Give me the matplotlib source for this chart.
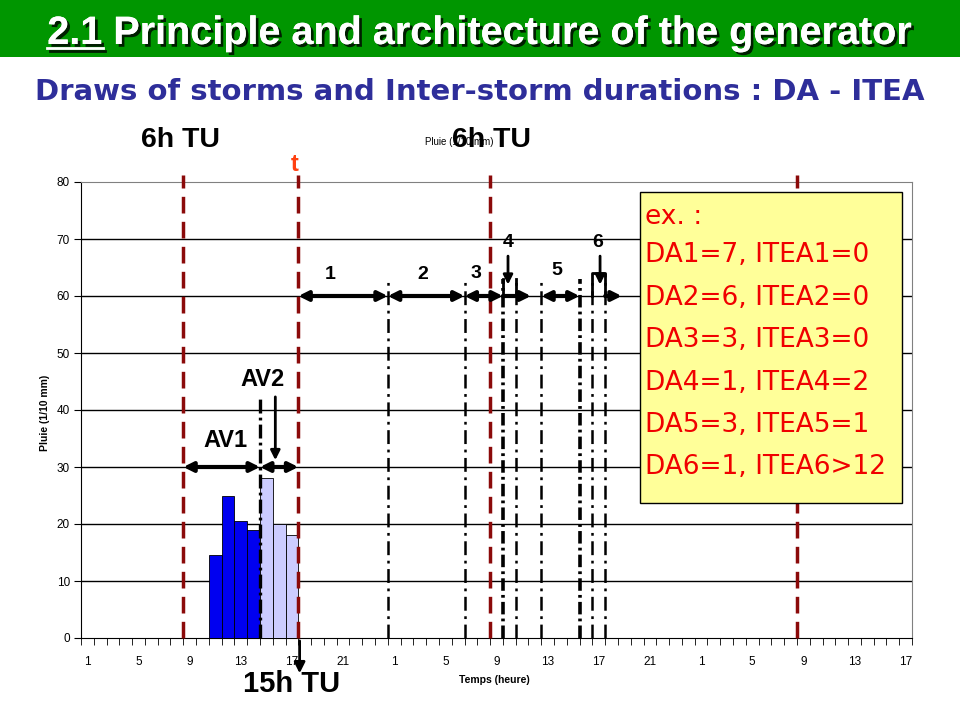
import matplotlib
matplotlib.use("Agg")
import matplotlib.pyplot as plt
from matplotlib.patches import Rectangle
import matplotlib.patheffects as pe

plt.rcParams['lines.scale_dashes'] = False

# ---------------- data ----------------
hour_labels = list(range(1, 25)) + list(range(1, 25)) + list(range(1, 18))
tick_every = 4

av1_hours = [11, 12, 13, 14]          # first storm part (AV1), day 1
av1_rain = [14.5, 25, 20.5, 19]
av2_hours = [15, 16, 17]              # second part (AV2), day 1
av2_rain = [28, 20, 18]

utc6_positions = [7.5, 31.5, 55.5]    # "6h TU" boundaries (category index)
t_position = 16.5                     # current time t
av_split = 13.5

DA = [7, 6, 3, 1, 3, 1]
ITEA = [0, 0, 0, 2, 1, 12]
bound_tops = [63, 63, 63, 63, 63, 63, 63, 64, 60]

box_lines = ["ex. :", "DA1=7, ITEA1=0", "DA2=6, ITEA2=0", "DA3=3, ITEA3=0",
             "DA4=1, ITEA4=2", "DA5=3, ITEA5=1", "DA6=1, ITEA6>12"]

title_num = "2.1"
title_rest = " Principle and architecture of the generator"
subtitle = "Draws of storms and Inter-storm durations : DA - ITEA"

# ---------------- figure ----------------
W, H = 960, 720
fig = plt.figure(figsize=(9.6, 7.2), dpi=100)
fig.patch.set_facecolor('white')

# green banner
fig.patches.append(Rectangle((0, 1 - 57 / H), 1, 57 / H, transform=fig.transFigure,
                             facecolor='#009600', edgecolor='none', zorder=0))

shadow = [pe.withSimplePatchShadow(offset=(2, -2), shadow_rgbFace='black', alpha=0.8),
          pe.Normal()]
tfont = dict(family='Liberation Sans', weight='bold', size=28.5, color='white')
full = fig.text(0.5, 1 - 44 / H, title_num + title_rest, ha='center', va='baseline',
                path_effects=shadow, **tfont)
fig.canvas.draw()
r = fig.canvas.get_renderer()
bb = full.get_window_extent(r)
tmp = fig.text(0, 0, title_num, **tfont)
wnum = tmp.get_window_extent(r).width
tmp.remove()
ul_y = (1 - 48 / H)
fig.add_artist(plt.Line2D([bb.x0 / W, (bb.x0 + wnum) / W], [ul_y, ul_y],
                          transform=fig.transFigure, color='white', lw=2,
                          path_effects=[pe.SimpleLineShadow(offset=(2, -2), shadow_color='black', alpha=0.8), pe.Normal()]))

fig.text(0.5, 1 - 92 / H, subtitle, ha='center', va='center',
         family='DejaVu Sans', weight='bold', size=21, color='#2E2E9A')

# axes
ax = fig.add_axes([81 / W, 82 / H, 831 / W, 456 / H])
n = len(hour_labels)
ax.set_xlim(-0.5, n - 0.5)
ax.set_ylim(0, 80)

for y in range(10, 80, 10):
    ax.axhline(y, color='black', lw=1, zorder=1)

ax.spines['top'].set_color('#808080')
ax.spines['right'].set_color('#808080')
ax.spines['left'].set_color('black')
ax.spines['bottom'].set_color('black')

ax.set_yticks(range(0, 81, 10))
ax.set_yticklabels([str(v) for v in range(0, 81, 10)], family='Liberation Sans', size=8.5)
ax.tick_params(axis='y', length=5, direction='out', pad=3)
maj = list(range(0, n, tick_every))
ax.set_xticks(maj)
ax.set_xticklabels([str(hour_labels[i]) for i in maj], family='Liberation Sans', size=8.5)
ax.set_xticks([i + 0.5 for i in range(-1, n)], minor=True)
ax.tick_params(axis='x', which='major', length=0, pad=13)
ax.tick_params(axis='x', which='minor', length=5, direction='out')

# bars
ax.bar([h - 1 for h in av1_hours], av1_rain, width=1.0, color='#0000F0',
       edgecolor='black', lw=0.6, zorder=3)
ax.bar([h - 1 for h in av2_hours], av2_rain, width=1.0, color='#CCCCFF',
       edgecolor='black', lw=0.6, zorder=3)

# red 6h TU / t lines
red = '#8B0A0A'
for x in utc6_positions + [t_position]:
    ax.plot([x, x], [0, 81.2], color=red, lw=2.5, dashes=(12, 6), zorder=4, clip_on=False)

# storm boundaries
bounds = [t_position]
for d, it in zip(DA, ITEA):
    bounds.append(bounds[-1] + d)
    if it and it < 12:
        bounds.append(bounds[-1] + it)
bounds = bounds[1:]
thick = {32.5, 38.5}
for x, top in zip(bounds, bound_tops):
    if x in thick:
        ax.plot([x, x], [0, top], color='black', lw=2.6, dashes=(9, 3, 2, 3), zorder=4)
    else:
        ax.plot([x, x], [0, top], color='black', lw=1.8, dashes=(10, 4, 2, 4), zorder=4)
ax.plot([av_split, av_split], [0, 42], color='black', lw=2.4, dashes=(10, 3, 2, 3), zorder=4)

def darrow(x1, x2, y, style='<|-|>'):
    ax.annotate('', xy=(x2, y), xytext=(x1, y),
                arrowprops=dict(arrowstyle=style, color='black', lw=3,
                                mutation_scale=14, shrinkA=0, shrinkB=0),
                zorder=6, annotation_clip=False)

def varrow(x, y1, y2, ms=14):
    ax.annotate('', xy=(x, y2), xytext=(x, y1),
                arrowprops=dict(arrowstyle='-|>', color='black', lw=2, mutation_scale=ms,
                                shrinkA=0, shrinkB=0), zorder=6, annotation_clip=False)

# arrows at 60
darrow(16.5, 23.5, 60)
darrow(23.5, 29.5, 60)
darrow(29.5, 32.5, 60)
darrow(32.5, 34.7, 60, '-|>')
darrow(35.5, 38.5, 60)
darrow(40.5, 41.8, 60, '-|>')
ax.plot([39.5, 39.5, 40.5, 40.5], [60, 64, 64, 60], color='black', lw=2, zorder=5)
ax.plot([32.5, 32.5], [60, 63], color='black', lw=2, zorder=5)
ax.plot([33.5, 33.5], [60, 63], color='black', lw=2, zorder=5)
varrow(32.9, 67, 62)
varrow(40.1, 67, 62)

# AV arrows
darrow(7.5, 13.5, 30)
darrow(13.5, 16.5, 30)
varrow(14.7, 42.3, 31.2)
varrow(16.6, -0.5, -6.2, ms=16)

bold = dict(family='Liberation Sans', weight='bold', color='black')
ax.text(10.8, 34.7, 'AV1', ha='center', va='center', size=17, zorder=7, **bold)
ax.text(13.7, 45.4, 'AV2', ha='center', va='center', size=17, zorder=7, **bold)
for lab, x, y in [('1', 19.0, 63.8), ('2', 26.2, 63.8), ('3', 30.4, 64.0),
                  ('4', 32.9, 69.3), ('5', 36.7, 64.5), ('6', 39.9, 69.3)]:
    ax.text(x, y, lab, ha='center', va='center', size=14, zorder=7, **bold)

ax.text(7.3, 87.3, '6h TU', ha='center', va='center', size=20.5, clip_on=False, **bold)
ax.text(29.1, 87.0, 'Pluie (1/10 mm)', ha='center', va='center', size=7,
        family='Liberation Sans', clip_on=False)
ax.text(31.6, 87.3, '6h TU', ha='center', va='center', size=20.5, clip_on=False, **bold)
ax.text(16.2, 83.0, 't', ha='center', va='center', size=17, clip_on=False,
        family='Liberation Sans', weight='bold', color='#FF4010')
ax.text(16.0, -8.0, '15h TU', ha='center', va='center', size=21, clip_on=False, **bold)

# yellow box
ax.add_patch(Rectangle((43.2, 23.7), 20.5, 54.55, facecolor='#FFFF99',
                       edgecolor='black', lw=1, zorder=8))
ys = [73.9, 67.2, 59.6, 52.3, 44.7, 37.4, 30.0]
for s, y in zip(box_lines, ys):
    ax.text(43.6, y, s, ha='left', va='center', size=19, family='DejaVu Sans',
            color='#F00000', zorder=9)

fig.text(45 / W, 1 - 413 / H, 'Pluie (1/10 mm)', rotation=90, ha='center', va='center',
         family='Liberation Sans', weight='bold', size=7.5)
fig.text(494 / W, 1 - 680 / H, 'Temps (heure)', ha='center', va='center',
         family='Liberation Sans', weight='bold', size=7.5)

fig.savefig('out.png', dpi=100)
